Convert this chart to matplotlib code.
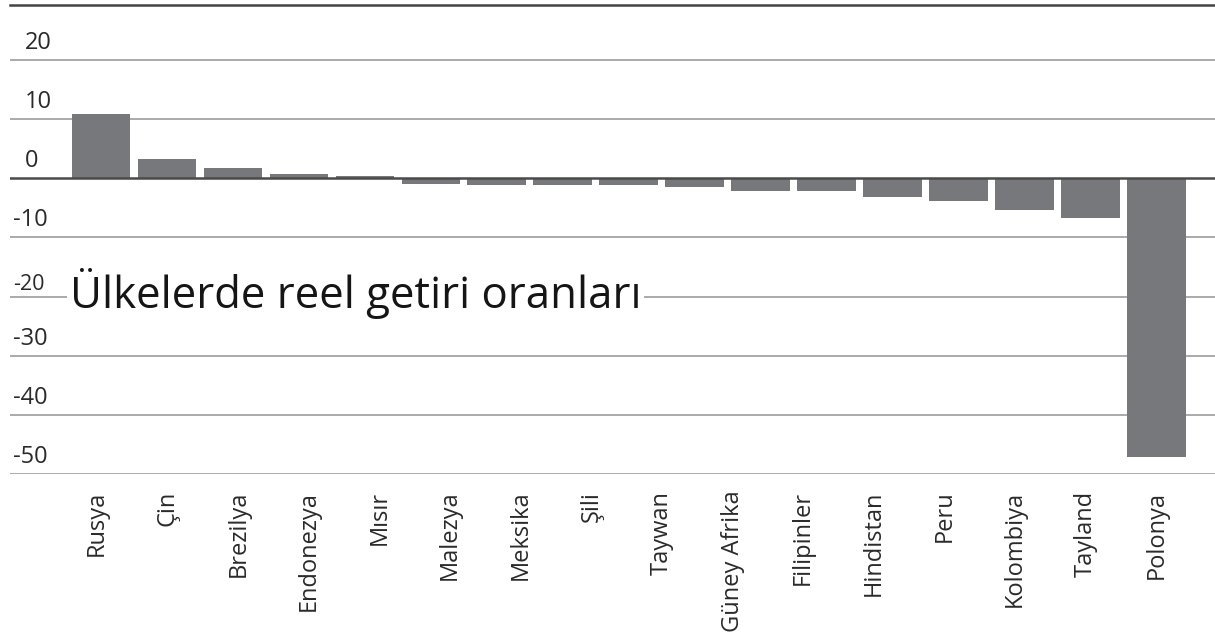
import numpy as np
import matplotlib.pyplot as plt
from matplotlib.transforms import blended_transform_factory, offset_copy

plt.rcParams['font.family'] = ['Open Sans', 'DejaVu Sans']

# 17 bars in the source graphic, but only 16 country names printed under them
values = [10.8, 3.3, 1.7, 0.8, 0.35, -0.9, -1.2, -1.2, -1.2, -1.55,
          -2.1, -2.1, -3.1, -3.8, -5.4, -6.7, -47.2]
countries = ['Rusya', 'Çin', 'Brezilya', 'Endonezya', 'Mısır', 'Malezya',
             'Meksika', 'Şili', 'Taywan', 'Güney Afrika', 'Filipinler',
             'Hindistan', 'Peru', 'Kolombiya', 'Tayland', 'Polonya']
yticks = [20, 10, 0, -10, -20, -30, -40, -50]
title = 'Ülkelerde reel getiri oranları'

bar_color = '#77787c'
text_color = '#2a2a2a'

fig = plt.figure(figsize=(12.15, 6.41), dpi=100)
ax = fig.add_axes([10 / 1215, 1 - 474 / 641, 1 - 10 / 1215, (474 - 5) / 641])

x = np.arange(len(values))
ax.bar(x, values, width=0.887, color=bar_color, zorder=2)

ax.set_xlim(-1.38, 16.89)
ax.set_ylim(-50, 29.3)

# gridlines
for t in yticks:
    if t == 0:
        ax.axhline(t, color='#4a4a4a', lw=1.8, zorder=3)
    else:
        ax.axhline(t, color='#9c9c9c', lw=1.2, zorder=1)

# y labels sit above their gridline, at the left edge
base = blended_transform_factory(fig.transFigure, ax.transData)
for t in yticks:
    xpos = 25 / 1215 if t >= 0 else 13 / 1215
    size, dy = (17, 5) if t != -20 else (15.5, 2)
    ax.text(xpos, t, str(t), transform=offset_copy(base, fig=fig, y=dy, units='dots'),
            ha='left', va='bottom', fontsize=size, color=text_color)

ax.set_yticks([])
label_pos = np.linspace(-0.06, len(values) - 1, len(countries))
ax.set_xticks(label_pos, countries, rotation=90, fontsize=17, color=text_color)
ax.tick_params(axis='x', length=0, pad=12)

for s in ['left', 'right', 'bottom']:
    ax.spines[s].set_visible(False)
ax.spines['top'].set_color('#444444')
ax.spines['top'].set_linewidth(1.8)

# title placed over the chart, blanking the -20 gridline behind it
ax.text(70 / 1215, -21.9, title, transform=base, ha='left', va='baseline',
        fontsize=31.5, fontweight='medium', color='#151515', zorder=5,
        bbox=dict(facecolor='white', edgecolor='none', pad=2))

fig.savefig('out.png', dpi=100)
